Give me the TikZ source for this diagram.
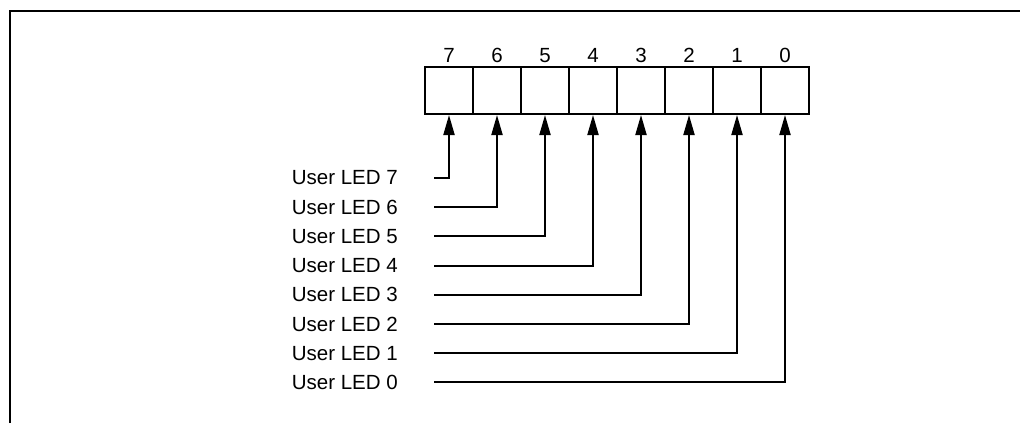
\documentclass[tikz,border=0pt]{standalone}
\usepackage{fontspec}
\setmainfont{Liberation Sans}
\usetikzlibrary{arrows.meta}

\begin{document}
\begin{tikzpicture}[x=1pt,y=-1pt,
  bitcell/.style={draw,line width=2pt,minimum width=48pt,minimum height=47pt,inner sep=0pt},
  ledline/.style={line width=2pt,-{Triangle[length=20pt,width=11pt]}},
  every node/.style={font=\fontsize{20.5}{24}\selectfont}]

\useasboundingbox (0,0) rectangle (1020,423);

\draw[line width=2.2pt] (10,423) -- (10,11) -- (1021,11);

\foreach \b in {7,...,0} {
  \node[bitcell] (c\b) at (449+48*7-48*\b,90.5) {};
  \node[anchor=base,inner sep=0pt] (n\b) at ([yshift=4pt]c\b.north) {\b};
  \node[anchor=east,inner sep=0pt] (l\b) at (398,178+29.2*7-29.2*\b) {User LED \b};
  \draw[ledline] ([xshift=36pt]l\b.east) -| (c\b.south);
}

\end{tikzpicture}
\end{document}
